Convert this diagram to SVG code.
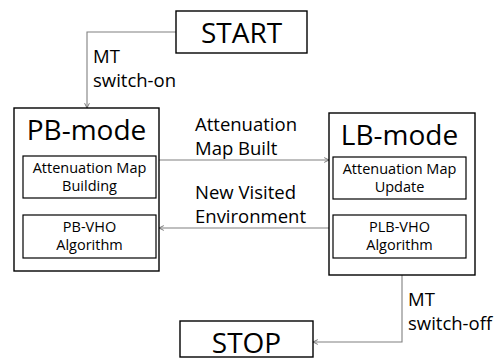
<svg xmlns="http://www.w3.org/2000/svg" width="494" height="360" viewBox="0 0 494 360">
<style>
text{font-family:"Open Sans","Liberation Sans",sans-serif;fill:#000}
.box{fill:#fff;stroke:#000;stroke-width:1.4}
.inner{fill:#fff;stroke:#000;stroke-width:1.2}
.title{font-size:28px;text-anchor:middle}
.sub{font-size:14.5px;text-anchor:middle}
.lbl{font-size:18.5px}
.edge{fill:none;stroke:#808080;stroke-width:1.1;marker-end:url(#arr)}
</style>
<defs>
<marker id="arr" viewBox="0 0 10 10" refX="10" refY="5" markerWidth="6" markerHeight="6" markerUnits="userSpaceOnUse" orient="auto">
<path d="M2,1 L10,5 L2,9" fill="none" stroke="#606060" stroke-width="1.4"/>
</marker>
</defs>
<rect width="494" height="360" fill="#fff"/>
<g id="connectors">
<path class="edge" d="M176,32 H87 V108"/>
<path class="edge" d="M159,160 H329"/>
<path class="edge" d="M329,228 H159"/>
<path class="edge" d="M402,275 V342 H313"/>
<text class="lbl" x="93" y="63">MT</text>
<text class="lbl" x="93" y="87">switch-on</text>
<text class="lbl" x="195" y="131">Attenuation</text>
<text class="lbl" x="195" y="155">Map Built</text>
<text class="lbl" x="195" y="199">New Visited</text>
<text class="lbl" x="195" y="223">Environment</text>
<text class="lbl" x="408" y="306">MT</text>
<text class="lbl" x="408" y="330">switch-off</text>
</g>
<g id="start">
<rect class="box" x="176" y="11" width="131" height="42"/>
<text class="title" x="241.5" y="43">START</text>
</g>
<g id="pb-mode">
<rect class="box" x="14" y="108" width="145" height="163"/>
<text class="title" x="86.5" y="139.5">PB-mode</text>
<g id="pb-map">
<rect class="inner" x="23" y="156" width="133" height="42"/>
<text class="sub" x="89.5" y="173">Attenuation Map</text>
<text class="sub" x="89.5" y="191">Building</text>
</g>
<g id="pb-vho">
<rect class="inner" x="23" y="215" width="133" height="43"/>
<text class="sub" x="89.5" y="232">PB-VHO</text>
<text class="sub" x="89.5" y="250">Algorithm</text>
</g>
</g>
<g id="lb-mode">
<rect class="box" x="329" y="113" width="146" height="162"/>
<text class="title" x="399.5" y="144.5">LB-mode</text>
<g id="lb-map">
<rect class="inner" x="333" y="157" width="133" height="42"/>
<text class="sub" x="399.5" y="174">Attenuation Map</text>
<text class="sub" x="399.5" y="192">Update</text>
</g>
<g id="plb-vho">
<rect class="inner" x="333" y="215" width="133" height="43"/>
<text class="sub" x="399.5" y="232">PLB-VHO</text>
<text class="sub" x="399.5" y="250">Algorithm</text>
</g>
</g>
<g id="stop">
<rect class="box" x="180" y="321" width="133" height="36"/>
<text class="title" x="246.5" y="353">STOP</text>
</g>
</svg>
